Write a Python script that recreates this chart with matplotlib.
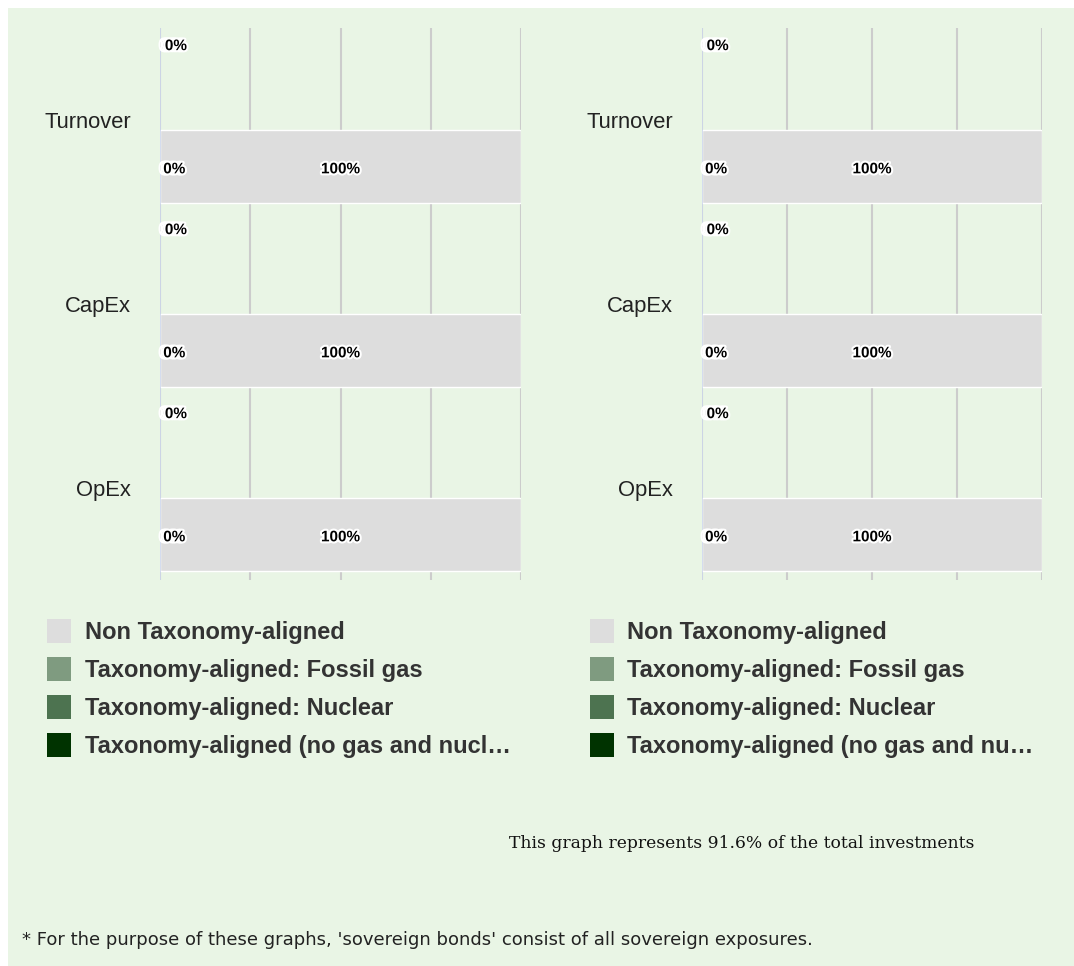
import matplotlib
matplotlib.use("Agg")
import matplotlib.pyplot as plt
from matplotlib.patches import Rectangle
from matplotlib import font_manager as fm
import matplotlib.patheffects as pe

# ---- data -------------------------------------------------------------
categories = ["Turnover", "CapEx", "OpEx"]

series_names = [
    "Non Taxonomy-aligned",
    "Taxonomy-aligned: Fossil gas",
    "Taxonomy-aligned: Nuclear",
    "Taxonomy-aligned (no gas and nuclear)",
]
series_colors = ["#dddddd", "#7f9b80", "#4d7350", "#003300"]

# upper row of each category (including sovereign bonds), left panel
left_upper_non = [0, 0, 0]
left_upper_gas = [0, 0, 0]
left_upper_nuclear = [0, 0, 0]
left_upper_aligned = [0, 0, 0]
# lower row of each category, left panel
left_lower_non = [100, 100, 100]
left_lower_gas = [0, 0, 0]
left_lower_nuclear = [0, 0, 0]
left_lower_aligned = [0, 0, 0]

# right panel (excluding sovereign bonds)
right_upper_non = [0, 0, 0]
right_upper_gas = [0, 0, 0]
right_upper_nuclear = [0, 0, 0]
right_upper_aligned = [0, 0, 0]
right_lower_non = [100, 100, 100]
right_lower_gas = [0, 0, 0]
right_lower_nuclear = [0, 0, 0]
right_lower_aligned = [0, 0, 0]

x_ticks = [0, 25, 50, 75, 100]

coverage_note = "This graph represents 91.6% of the total investments"
footnote = ("* For the purpose of these graphs, 'sovereign bonds' consist of "
            "all sovereign exposures.")


# ---- fonts ------------------------------------------------------------
def find_font(filename, fallback_family, weight="normal"):
    for path in fm.findSystemFonts():
        if path.endswith(filename):
            return fm.FontProperties(fname=path)
    return fm.FontProperties(family=fallback_family, weight=weight)


F_REG = find_font("LiberationSans-Regular.ttf", "DejaVu Sans")
F_BOLD = find_font("LiberationSans-Bold.ttf", "DejaVu Sans", "bold")


def fp(base, size):
    p = base.copy()
    p.set_size(size)
    return p


# ---- figure -----------------------------------------------------------
W, H = 1074, 966
fig = plt.figure(figsize=(W / 100, H / 100), dpi=100)
fig.patch.set_facecolor("white")

BG = "#e9f5e5"
fig.patches.append(Rectangle((8 / W, 0), (W - 8) / W, (H - 8) / H,
                             transform=fig.transFigure, facecolor=BG,
                             edgecolor="none", zorder=-10))

halo = [pe.withStroke(linewidth=3, foreground="white")]
LABEL_FONT = fp(F_BOLD, 11)


def px_axes(x0, x1, y0, y1):
    return fig.add_axes([x0 / W, 1 - y1 / H, (x1 - x0) / W, (y1 - y0) / H])


BAR_H = 0.397
OFFSET = 0.253


def draw_panel(ax, upper_rows, lower_rows):
    ax.set_facecolor("none")
    ax.set_xlim(0, 100)
    ax.set_ylim(len(categories) - 0.5, -0.5)
    for s in ax.spines.values():
        s.set_visible(False)
    for xv in x_ticks:
        ax.axvline(xv, color="#cccccc", lw=1.5, zorder=0)
    ax.axvline(0, color="#ccd6eb", lw=1.2, zorder=5)
    ax.set_xticks([])
    ax.set_yticks(range(len(categories)))
    ax.set_yticklabels(categories, fontproperties=fp(F_REG, 15.8),
                       color="#222222")
    ax.tick_params(axis="y", length=0, pad=21)

    for rows, off in ((upper_rows, -OFFSET), (lower_rows, OFFSET)):
        for ci in range(len(categories)):
            y = ci + off
            left = 0
            zero_idx = 0
            # later series sit next to the axis, the first one at the far end
            for si in reversed(range(len(rows))):
                v = rows[si][ci]
                if v > 0:
                    ax.barh(y, v, left=left, height=BAR_H,
                            color=series_colors[si], edgecolor="white",
                            linewidth=1, zorder=2)
                    ax.text(left + v / 2, y + 0.015, f"{v:g}%",
                            ha="center", va="center",
                            fontproperties=LABEL_FONT, color="black",
                            path_effects=halo, zorder=6)
                else:
                    ly = y + 0.015 if off > 0 else y - BAR_H / 2 + 0.05
                    ax.text(left + 0.45 * zero_idx, ly, f"{v:g}%",
                            ha="left", va="center",
                            fontproperties=LABEL_FONT, color="black",
                            path_effects=halo, zorder=6)
                    zero_idx += 1
                left += v


ax_l = px_axes(160, 521, 28, 580)
draw_panel(ax_l,
           [left_upper_non, left_upper_gas, left_upper_nuclear, left_upper_aligned],
           [left_lower_non, left_lower_gas, left_lower_nuclear, left_lower_aligned])

ax_r = px_axes(702, 1042, 28, 580)
draw_panel(ax_r,
           [right_upper_non, right_upper_gas, right_upper_nuclear, right_upper_aligned],
           [right_lower_non, right_lower_gas, right_lower_nuclear, right_lower_aligned])


# ---- legends ----------------------------------------------------------
def shorten(text, max_chars):
    return text if len(text) <= max_chars else text[:max_chars].rstrip() + "\u2026"


LEGEND_FONT = fp(F_BOLD, 17)


def draw_legend(x_box, x_text, max_chars):
    for i, (name, col) in enumerate(zip(series_names, series_colors)):
        cy = 631 + 38 * i
        fig.patches.append(Rectangle((x_box / W, 1 - (cy + 12) / H),
                                     24 / W, 24 / H,
                                     transform=fig.transFigure,
                                     facecolor=col, edgecolor="none"))
        fig.text(x_text / W, 1 - (cy + 1) / H, shorten(name, max_chars),
                 ha="left", va="center", fontproperties=LEGEND_FONT,
                 color="#333333")


draw_legend(47, 85, 33)
draw_legend(590, 627, 31)

# ---- notes ------------------------------------------------------------
fig.text(509 / W, 1 - 844 / H, coverage_note, ha="left", va="center",
         fontsize=12.3, color="#111111", family=["DejaVu Serif"])
fig.text(22 / W, 1 - 940 / H, footnote, ha="left", va="center",
         fontsize=13, color="#222222", family=["DejaVu Sans"])

fig.savefig("out.png", dpi=100, facecolor=fig.get_facecolor())
